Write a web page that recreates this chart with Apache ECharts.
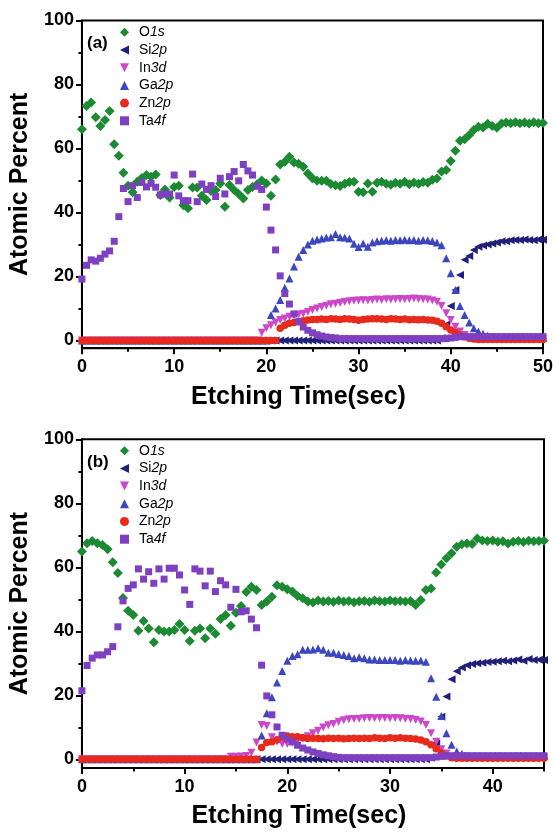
<!DOCTYPE html>
<html>
<head>
<meta charset="utf-8">
<script src="https://cdn.jsdelivr.net/npm/echarts@6/dist/echarts.min.js"></script>
<style>
html, body { margin: 0; padding: 0; background: #fff; }
#chart { width: 556px; height: 832px; }
</style>
</head>
<body>
<div id="chart"></div>
<script>
// etching time, 0.5 s steps
var timeA = [
  0, 0.5, 1, 1.5, 2, 2.5, 3, 3.5, 4, 4.5,
  5, 5.5, 6, 6.5, 7, 7.5, 8, 8.5, 9, 9.5,
  10, 10.5, 11, 11.5, 12, 12.5, 13, 13.5, 14, 14.5,
  15, 15.5, 16, 16.5, 17, 17.5, 18, 18.5, 19, 19.5,
  20, 20.5, 21, 21.5, 22, 22.5, 23, 23.5, 24, 24.5,
  25, 25.5, 26, 26.5, 27, 27.5, 28, 28.5, 29, 29.5,
  30, 30.5, 31, 31.5, 32, 32.5, 33, 33.5, 34, 34.5,
  35, 35.5, 36, 36.5, 37, 37.5, 38, 38.5, 39, 39.5,
  40, 40.5, 41, 41.5, 42, 42.5, 43, 43.5, 44, 44.5,
  45, 45.5, 46, 46.5, 47, 47.5, 48, 48.5, 49, 49.5,
  50
];
var timeB = timeA.slice(0, 91);

var species = ['O1s', 'Si2p', 'In3d', 'Ga2p', 'Zn2p', 'Ta4f'];

// panel (a)
var a_O1s = [
  66, 73.3, 74.4, 69.8, 67, 68.9, 71.7, 61.3, 57.7, 52.4,
  48.4, 46.3, 49.6, 50.8, 51.7, 51.2, 51.9, 45.5, 47.2, 44.7,
  48, 48.4, 42.3, 41.3, 47.8, 47.8, 45.2, 43.9, 46.7, 47,
  49.1, 41.8, 48.6, 47, 45.8, 44.4, 47, 48, 48.8, 50,
  49.1, 45.2, 50.3, 55, 55.9, 57.4, 55.6, 55.2, 54.3, 52.2,
  50.7, 49.9, 49.9, 49.9, 48.9, 48.5, 48.3, 49, 49.5, 49.6,
  46.5, 46.3, 49.1, 46.5, 49.3, 49.6, 49, 48.7, 49.3, 49,
  49.6, 48.8, 49.4, 49, 49.5, 49.3, 50.2, 50.6, 52.8, 53.3,
  56.1, 59.3, 62.4, 62.9, 64.2, 65.8, 66.8, 66.6, 67.7, 67,
  66.5, 67.8, 68.1, 67.9, 68.2, 67.9, 68.1, 67.8, 68.2, 67.9,
  68
];
var a_Si2p = [
  0, 0, 0, 0, 0, 0, 0, 0, 0, 0,
  0, 0, 0, 0, 0, 0, 0, 0, 0, 0,
  0, 0, 0, 0, 0, 0, 0, 0, 0, 0,
  0, 0, 0, 0, 0, 0, 0, 0, 0, 0,
  0, 0, 0, 0, 0, 0, 0, 0, 0, 0,
  0, 0, 0, 0, 0, 0, 0, 0, 0, 0,
  0, 0, 0, 0, 0, 0, 0, 0, 0, 0,
  0, 0, 0, 0, 0, 0, 0, 0, 0.8, 5,
  10.8, 15.8, 20.5, 25.2, 26.4, 28.3, 29.3, 29.7, 30, 30.3,
  30.6, 31, 31, 31.3, 31.4, 31.4, 31.6, 31.4, 31.3, 31.6,
  31.5
];
var a_In3d = [
  0, 0, 0, 0, 0, 0, 0, 0, 0, 0,
  0, 0, 0, 0, 0, 0, 0, 0, 0, 0,
  0, 0, 0, 0, 0, 0, 0, 0, 0, 0,
  0, 0, 0, 0, 0, 0, 0, 0, 0, 2.4,
  3.8, 4.8, 5.6, 6.4, 6.9, 7.4, 7.8, 8.1, 8.4, 8.9,
  9.5, 10, 10.5, 10.9, 11.3, 11.5, 11.7, 12, 12.3, 12.4,
  12.5, 12.6, 12.5, 12.7, 12.8, 12.7, 12.9, 12.8, 12.9, 13,
  12.9, 13, 13.1, 13, 12.9, 12.8, 12.5, 12.1, 10.8, 8.5,
  6.4, 4.3, 2.8, 1.7, 0.9, 0.6, 0.4, 0.4, 0.4, 0.4,
  0.4, 0.4, 0.4, 0.4, 0.4, 0.4, 0.4, 0.4, 0.4, 0.4,
  0.4
];
var a_Ga2p = [
  0, 0, 0, 0, 0, 0, 0, 0, 0, 0,
  0, 0, 0, 0, 0, 0, 0, 0, 0, 0,
  0, 0, 0, 0, 0, 0, 0, 0, 0, 0,
  0, 0, 0, 0, 0, 0, 0, 0, 0, 0,
  0, 8, 10, 12.7, 16.5, 19.4, 23.1, 26.2, 28.3, 30,
  31.2, 31.6, 31.9, 32.2, 32.3, 33.3, 32.3, 32.2, 31.9, 30.2,
  29.2, 30.3, 29.3, 30.6, 31, 31.2, 31.3, 31.2, 31.4, 31.3,
  31.5, 31.3, 31.4, 31.2, 31.4, 31.3, 31.1, 30.6, 29.8, 25.7,
  21, 15.8, 10.8, 8, 5.6, 3.8, 2.8, 2.1, 1.5, 1.2,
  1, 0.8, 0.8, 0.8, 0.8, 0.8, 0.8, 0.8, 0.8, 0.8,
  0.8
];
var a_Zn2p = [
  0, 0, 0, 0, 0, 0, 0, 0, 0, 0,
  0, 0, 0, 0, 0, 0, 0, 0, 0, 0,
  0, 0, 0, 0, 0, 0, 0, 0, 0, 0,
  0, 0, 0, 0, 0, 0, 0, 0, 0, 0,
  0, 0, 0, 3.8, 4.8, 5.4, 5.6, 5.9, 6.2, 6.4,
  6.6, 6.6, 6.7, 6.6, 6.8, 6.7, 6.6, 6.8, 6.7, 6.6,
  6.3, 6.6, 6.7, 6.8, 6.8, 6.7, 6.6, 6.8, 6.7, 6.6,
  6.7, 6.5, 6.6, 6.5, 6.6, 6.4, 6.3, 6, 5.4, 4.3,
  3.3, 2.5, 1.7, 1.2, 0.7, 0.5, 0.3, 0.3, 0.3, 0.3,
  0.3, 0.3, 0.3, 0.3, 0.3, 0.3, 0.3, 0.3, 0.3, 0.3,
  0.3
];
var a_Ta4f = [
  19.2, 23.5, 25.2, 24.8, 25.7, 27, 28, 31, 38.7, 47.5,
  43.4, 48.4, 44.7, 49.4, 48, 49.1, 47.9, 45.5, 45.8, 45.8,
  51.7, 45.2, 43.7, 43.7, 52, 43.4, 48.9, 47.2, 48.4, 45,
  50.7, 45.8, 51.2, 52.8, 49.9, 55, 53, 51.7, 48.2, 47.2,
  41.7, 34.5, 28.3, 20.2, 14.7, 11.4, 8.3, 5.9, 4.2, 3.2,
  2.4, 1.8, 1.4, 1.1, 0.9, 0.8, 0.6, 0.6, 0.6, 0.6,
  0.6, 0.6, 0.6, 0.6, 0.6, 0.6, 0.6, 0.6, 0.6, 0.6,
  0.6, 0.6, 0.6, 0.6, 0.6, 0.6, 0.6, 0.6, 0.6, 0.6,
  0.8, 1, 1.2, 1.2, 1.2, 1.2, 1.2, 1.2, 1.2, 1.2,
  1.2, 1.2, 1.2, 1.2, 1.2, 1.2, 1.2, 1.2, 1.2, 1.2,
  1.2
];

// panel (b)
var b_O1s = [
  64.9, 67.5, 68.2, 67.5, 67, 65.6, 61.6, 58.2, 50.4, 46.4,
  45.1, 40.2, 43.2, 40.9, 36.6, 40.4, 39.9, 39.9, 40.4, 42.3,
  40.4, 37, 40.2, 40.9, 37.8, 40.9, 39.2, 43.8, 45.1, 41.7,
  45.8, 47.9, 52.3, 53.9, 52.9, 48.2, 49.3, 50.8, 54.4, 53.9,
  53.1, 52.4, 51, 50.3, 49.3, 49, 49.6, 49.3, 49.5, 49.2,
  49.6, 49.3, 49.5, 49.1, 49.4, 49.5, 49.2, 49.6, 49.4, 49.3,
  49.6, 49.4, 49.5, 49.3, 49.5, 48.2, 49.8, 52.9, 53.4, 58.4,
  60.9, 62.8, 64.4, 66.4, 67.2, 67.4, 67.3, 69, 68.4, 68.2,
  68.4, 68, 68.1, 67.4, 68, 68.2, 67.9, 68.3, 68.1, 68.2,
  68.3
];
var b_Si2p = [
  0, 0, 0, 0, 0, 0, 0, 0, 0, 0,
  0, 0, 0, 0, 0, 0, 0, 0, 0, 0,
  0, 0, 0, 0, 0, 0, 0, 0, 0, 0,
  0, 0, 0, 0, 0, 0, 0, 0, 0, 0,
  0, 0, 0, 0, 0, 0, 0, 0, 0, 0,
  0, 0, 0, 0, 0, 0, 0, 0, 0, 0,
  0, 0, 0, 0, 0, 0, 0, 0, 0.5, 5,
  13.3, 19.6, 25, 27.5, 28.7, 29.4, 29.8, 30, 30.2, 30.4,
  30.5, 30.6, 30.8, 30.6, 30.9, 31.2, 30.8, 31.3, 31, 31.1,
  31
];
var b_In3d = [
  0, 0, 0, 0, 0, 0, 0, 0, 0, 0,
  0, 0, 0, 0, 0, 0, 0, 0, 0, 0,
  0, 0, 0, 0, 0, 0, 0, 0, 0, 0.8,
  0.8, 0.9, 1, 2, 5.2, 10.7, 10.4, 6.9, 5.5, 4.8,
  4.8, 5.2, 5.8, 6.5, 7.2, 8.1, 8.9, 9.9, 10.6, 11,
  11.7, 12.2, 12.5, 12.6, 12.7, 12.8, 12.9, 12.8, 12.9, 12.9,
  12.8, 12.9, 12.8, 12.7, 12.6, 12.3, 11.8, 10.7, 8.1, 5.5,
  3.1, 1.8, 0.8, 0.5, 0.3, 0.3, 0.3, 0.3, 0.3, 0.3,
  0.3, 0.3, 0.3, 0.3, 0.3, 0.3, 0.3, 0.3, 0.3, 0.3,
  0.3
];
var b_Ga2p = [
  0, 0, 0, 0, 0, 0, 0, 0, 0, 0,
  0, 0, 0, 0, 0, 0, 0, 0, 0, 0,
  0, 0, 0, 0, 0, 0, 0, 0, 0, 0,
  0, 0, 0, 0, 0, 7.4, 14.4, 19.4, 24, 27.6,
  30.8, 32.3, 32.8, 34.2, 34.2, 34.3, 34.7, 34.2, 33.3, 33.3,
  32.9, 32.6, 32.3, 31.6, 31.9, 31.6, 31.2, 31.2, 31, 31,
  31, 31, 30.8, 31, 30.9, 30.8, 30.9, 30.5, 25.3, 19.5,
  13.5, 8.1, 4.5, 2.4, 1.7, 1.2, 1, 1, 1, 1,
  1, 1, 1, 1, 1, 1, 1, 1, 1, 1,
  1
];
var b_Zn2p = [
  0, 0, 0, 0, 0, 0, 0, 0, 0, 0,
  0, 0, 0, 0, 0, 0, 0, 0, 0, 0,
  0, 0, 0, 0, 0, 0, 0, 0, 0, 0,
  0, 0, 0, 0, 0, 3.7, 5.2, 5.5, 6.1, 7,
  7.3, 7, 7, 6.7, 6.5, 6.6, 6.5, 6.4, 6.6, 6.5,
  6.6, 6.4, 6.5, 6.6, 6.5, 6.6, 6.5, 6.7, 6.6, 6.5,
  6.7, 6.6, 6.7, 6.6, 6.5, 6.3, 6, 5.5, 4.5, 3.3,
  2, 1, 0.5, 0.3, 0.3, 0.3, 0.3, 0.3, 0.3, 0.3,
  0.3, 0.3, 0.3, 0.3, 0.3, 0.3, 0.3, 0.3, 0.3, 0.3,
  0.3
];
var b_Ta4f = [
  21.4, 29.3, 31.6, 32.6, 32.6, 33.6, 35.2, 41.4, 49.5, 53.4,
  54.5, 59.5, 56.3, 58.6, 55, 59.5, 56.3, 59.7, 59.7, 57.6,
  52.9, 48.4, 59.5, 58.8, 54.2, 58.8, 52.4, 55.8, 54.5, 47.5,
  53.1, 46.1, 46.4, 43.8, 41.1, 29.4, 19.8, 13.9, 10.1, 7.5,
  6.4, 5.4, 4.4, 3.5, 2.9, 2.3, 1.8, 1.4, 1.1, 0.8,
  0.6, 0.5, 0.5, 0.5, 0.5, 0.5, 0.5, 0.5, 0.5, 0.5,
  0.5, 0.5, 0.5, 0.5, 0.5, 0.5, 0.5, 0.5, 0.5, 0.7,
  0.9, 1.1, 1.1, 1.1, 1.1, 1.1, 1.1, 1.1, 1.1, 1.1,
  1.1, 1.1, 1.1, 1.1, 1.1, 1.1, 1.1, 1.1, 1.1, 1.1,
  1.1
];

// tick labels
var yTicks = [0, 20, 40, 60, 80, 100];
var yMinor = [10, 30, 50, 70, 90];
var xTicksA = [0, 10, 20, 30, 40, 50];
var xMinorA = [5, 15, 25, 35, 45];
var xTicksB = [0, 10, 20, 30, 40];
var xMinorB = [5, 15, 25, 35, 45];

var colors = ['#1c8a33', '#20207a', '#cc48c8', '#3c46bf', '#e62a1c', '#7e40c0'];
var symbols = ['diamond', 'triangle', 'triangle', 'triangle', 'circle', 'rect'];
var rotations = [0, 90, 180, 0, 0, 0];
var sizes = [10, 8, 8, 8, 7.5, 7];
// legend icons, drawn with the same orientation as the markers
var legendIcons = ['diamond', 'path://M10,0 L10,10 L0,5 Z', 'path://M0,0 L10,0 L5,10 Z', 'triangle', 'circle', 'rect'];
var parts = [['O', '1s'], ['Si', '2p'], ['In', '3d'], ['Ga', '2p'], ['Zn', '2p'], ['Ta', '4f']];

var font = '"Liberation Sans", Arial, sans-serif';
var black = '#000';

var chart = echarts.init(document.getElementById('chart'));

function xAxes(gi, xMax, ticks, minor) {
    return [{
        gridIndex: gi, type: 'value', min: 0, max: xMax, position: 'bottom',
        axisLine: { show: true, onZero: false, lineStyle: { color: black, width: 2 } },
        axisTick: { show: true, customValues: ticks, length: 6, lineStyle: { color: black, width: 2 } },
        axisLabel: { customValues: ticks, margin: 10, color: black, fontSize: 18, fontWeight: 'bold', fontFamily: font },
        splitLine: { show: false },
        name: 'Etching Time(sec)', nameLocation: 'middle', nameGap: 36,
        nameTextStyle: { color: black, fontSize: 25, fontWeight: 'bold', fontFamily: font, padding: [0, 28, 0, 0] }
    }, {
        gridIndex: gi, type: 'value', min: 0, max: xMax, position: 'bottom',
        axisLine: { show: false, onZero: false },
        axisTick: { show: true, customValues: minor, length: 3.5, lineStyle: { color: black, width: 2 } },
        axisLabel: { show: false },
        splitLine: { show: false }
    }];
}

function yAxes(gi, yMin) {
    return [{
        gridIndex: gi, type: 'value', min: yMin, max: 100, position: 'left',
        axisLine: { show: true, onZero: false, lineStyle: { color: black, width: 2 } },
        axisTick: { show: true, customValues: yTicks, length: 6, lineStyle: { color: black, width: 2 } },
        axisLabel: { customValues: yTicks, margin: 8, color: black, fontSize: 18, fontWeight: 'bold', fontFamily: font },
        splitLine: { show: false },
        name: 'Atomic Percent', nameLocation: 'middle', nameGap: 38,
        nameTextStyle: { color: black, fontSize: 25, fontWeight: 'bold', fontFamily: font }
    }, {
        gridIndex: gi, type: 'value', min: yMin, max: 100, position: 'left',
        axisLine: { show: false, onZero: false },
        axisTick: { show: true, customValues: yMinor, length: 3.5, lineStyle: { color: black, width: 2 } },
        axisLabel: { show: false },
        splitLine: { show: false }
    }];
}

function panelSeries(gi, times, sets) {
    return sets.map(function (vals, k) {
        return {
            name: species[k], type: 'scatter',
            xAxisIndex: gi * 2, yAxisIndex: gi * 2,
            symbol: symbols[k], symbolRotate: rotations[k], symbolSize: sizes[k],
            itemStyle: { color: colors[k], opacity: 1 },
            z: 2 + k,
            data: vals.map(function (v, i) { return [times[i], v]; })
        };
    });
}

function legend(top) {
    return {
        orient: 'vertical', left: 120, top: top, padding: 0,
        itemWidth: 9, itemHeight: 9, itemGap: 3.7,
        data: species.map(function (s, k) {
            return { name: s, icon: legendIcons[k], symbolRotate: 0 };
        }),
        formatter: function (name) {
            var p = parts[species.indexOf(name)];
            return '{n|' + p[0] + '}{i|' + p[1] + '}';
        },
        textStyle: {
            padding: [0, 0, 0, 5],
            rich: {
                n: { fontSize: 14, lineHeight: 14, color: black, fontFamily: font },
                i: { fontSize: 14, lineHeight: 14, color: black, fontFamily: font, fontStyle: 'italic' }
            }
        }
    };
}

var option = {
    animation: false,
    backgroundColor: '#fff',
    title: [
        { text: '(a)', left: 87, top: 35, padding: 0, textStyle: { fontSize: 17, fontWeight: 'bold', color: black, fontFamily: font } },
        { text: '(b)', left: 87, top: 454, padding: 0, textStyle: { fontSize: 17, fontWeight: 'bold', color: black, fontFamily: font } }
    ],
    legend: [legend(25.3), legend(443.7)],
    grid: [
        { left: 78, top: 20.5, width: 466, height: 327.7, show: true, borderColor: black, borderWidth: 2, backgroundColor: 'transparent' },
        { left: 78, top: 439.3, width: 466, height: 328.6, show: true, borderColor: black, borderWidth: 2, backgroundColor: 'transparent' }
    ],
    xAxis: xAxes(0, 50, xTicksA, xMinorA).concat(xAxes(1, 45, xTicksB, xMinorB)),
    yAxis: yAxes(0, -2.4).concat(yAxes(1, -2.7)),
    series: panelSeries(0, timeA, [a_O1s, a_Si2p, a_In3d, a_Ga2p, a_Zn2p, a_Ta4f])
        .concat(panelSeries(1, timeB, [b_O1s, b_Si2p, b_In3d, b_Ga2p, b_Zn2p, b_Ta4f]))
};

chart.setOption(option);
</script>
</body>
</html>
